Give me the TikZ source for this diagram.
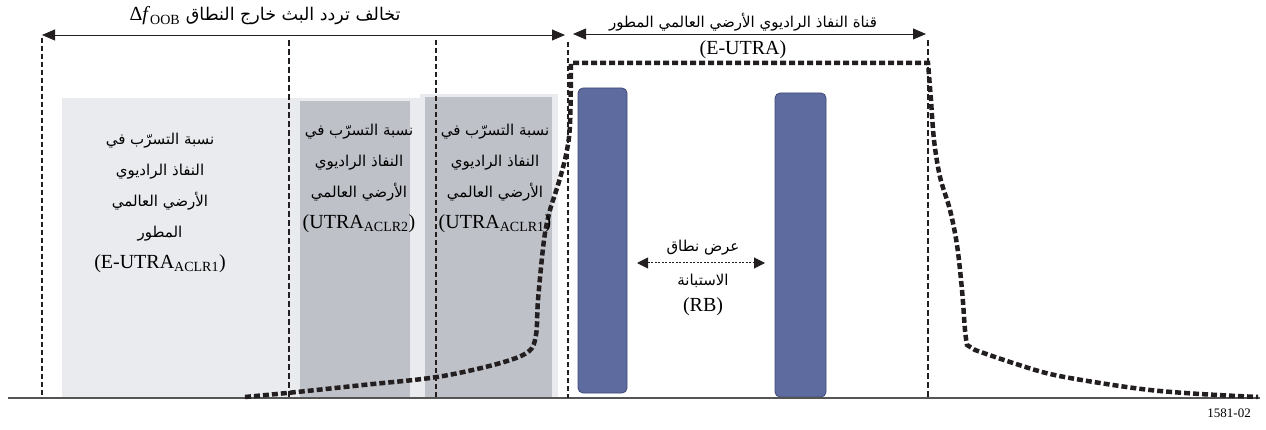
\documentclass[tikz,border=0pt]{standalone}
\usepackage{fontspec}
\setmainfont{Liberation Serif}
\newfontfamily\arabicfont[Script=Arabic]{DejaVu Sans}
\TeXXeTstate=1
\usetikzlibrary{arrows.meta}
\newcommand\AR[1]{{\arabicfont\beginR #1\endR}}
\definecolor{lightbg}{HTML}{EAEBEE}
\definecolor{darkbox}{HTML}{BEC1C8}
\definecolor{rbblue}{HTML}{5E6B9E}
\definecolor{rbedge}{HTML}{3F4A78}
\definecolor{ink}{HTML}{231F20}
\definecolor{axisgray}{HTML}{555555}
\begin{document}
\begin{tikzpicture}[x=1pt,y=-1pt,
  vthick/.style={draw=ink, line width=2.2pt, dash pattern=on 5pt off 3pt},
  vthin/.style={draw=ink, line width=1.3pt, dash pattern=on 6pt off 3pt},
  dimarrow/.style={draw=ink, line width=0.8pt, {Triangle[length=13pt,width=11pt]}-{Triangle[length=13pt,width=11pt]}},
  rbarrow/.style={draw=ink, line width=1pt, dash pattern=on 2pt off 1.5pt, {Triangle[length=11pt,width=11pt]}-{Triangle[length=11pt,width=11pt]}},
  spec/.style={draw=ink, line width=4.5pt, dash pattern=on 6pt off 3pt},
  rbbar/.style={draw=rbedge, fill=rbblue, line width=0.8pt, rounded corners=5pt},
  lbl/.style={inner sep=0pt, font=\fontsize{20}{24}\selectfont},
  arlbl/.style={inner sep=0pt, align=center, font=\fontsize{15}{31}\selectfont},
  axisline/.style={draw=axisgray, line width=1.5pt}
]
\useasboundingbox (0,0) rectangle (1266,430);

% shaded ACLR regions
\fill[lightbg] (62,98) rectangle (420,398);
\fill[lightbg] (420,94) rectangle (558,398);
\fill[darkbox] (300,101) rectangle (410,398);
\fill[darkbox] (425,97) rectangle (552,398);

% resource blocks
\node[rbbar, minimum width=49pt, minimum height=305pt] (b1) at (602.5,240.5) {};
\node[rbbar, minimum width=51pt, minimum height=304pt] (b2) at (800.5,245) {};

% axis
\coordinate (ax0) at (8,398);
\coordinate (ax1) at (1260,398);
\draw[axisline] (ax0) -- (ax1);

% vertical boundaries
\coordinate (l0t) at (42,38);  \coordinate (l0b) at (42,398);
\coordinate (l1t) at (289,40); \coordinate (l1b) at (289,398);
\coordinate (l2t) at (436,40); \coordinate (l2b) at (436,398);
\coordinate (l3t) at (568,42); \coordinate (l3b) at (568,398);
\coordinate (l4t) at (928,40); \coordinate (l4b) at (928,398);
\draw[vthick] (l0t) -- (l0b);
\draw[vthin] (l1t) -- (l1b);
\draw[vthick] (l2t) -- (l2b);
\draw[vthick] (l3t) -- (l3b);
\draw[vthin] (l4t) -- (l4b);

% spectrum mask
\draw[spec] plot[smooth, tension=0.55] coordinates {(245,397) (297,392) (363,385) (437,377) (497,364) (528,352) (536,335) (538,300) (544,240) (550,210) (558,185) (566,155) (570,125) (571,63)}
  -- (928,63)
  -- plot[smooth, tension=0.55] coordinates {(931,100) (934,140) (940,177) (950,210) (957,245) (962,290) (965,330) (967,345)}
  -- plot[smooth, tension=0.55] coordinates {(975,350) (1010,362) (1050,374) (1100,383) (1150,390) (1200,394) (1258,397)};

% top dimension arrows
\coordinate (aL1) at (42,35);  \coordinate (aL2) at (565,35);
\coordinate (aR1) at (573,34); \coordinate (aR2) at (926,34);
\draw[dimarrow] (aL1) -- (aL2);
\draw[dimarrow] (aR1) -- (aR2);

\node[lbl] (oob) at (265,16) {{\arabicfont\fontsize{17.5}{24}\selectfont\beginR تخالف تردد البث خارج النطاق \beginL{\rmfamily\fontsize{20}{24}\selectfont Δ\textit{f}\textsubscript{OOB}}\endL\endR}};
\node[arlbl] (eu1) at (743,22) {\AR{قناة النفاذ الراديوي الأرضي العالمي المطور}};
\node[lbl] (eu2) at (743,50) {(E-UTRA)};

% ACLR texts
\node[arlbl] (t1) at (160,203) {\AR{نسبة التسرّب في}\\\AR{النفاذ الراديوي}\\\AR{الأرضي العالمي}\\\AR{المطور}\\{\fontsize{20}{24}\selectfont (E-UTRA\textsubscript{ACLR1})}};
\node[arlbl] (t2) at (359,178) {\AR{نسبة التسرّب في}\\\AR{النفاذ الراديوي}\\\AR{الأرضي العالمي}\\{\fontsize{20}{24}\selectfont (UTRA\textsubscript{ACLR2})}};
\node[arlbl] (t3) at (495,178) {\AR{نسبة التسرّب في}\\\AR{النفاذ الراديوي}\\\AR{الأرضي العالمي}\\{\fontsize{20}{24}\selectfont (UTRA\textsubscript{ACLR1})}};

% RB bandwidth
\coordinate (rbA) at (637,263);
\coordinate (rbB) at (765,263);
\draw[rbarrow] (rbA) -- (rbB);
\node[arlbl] (rbt) at (703,248) {\AR{عرض نطاق}};
\node[arlbl] (rbb) at (703,281) {\AR{الاستبانة}};
\node[lbl] (rbc) at (703,307) {(RB)};

\node[anchor=east, inner sep=0pt, font=\fontsize{13}{15}\selectfont] (fig) at (1251,413) {1581-02};
\end{tikzpicture}
\end{document}
